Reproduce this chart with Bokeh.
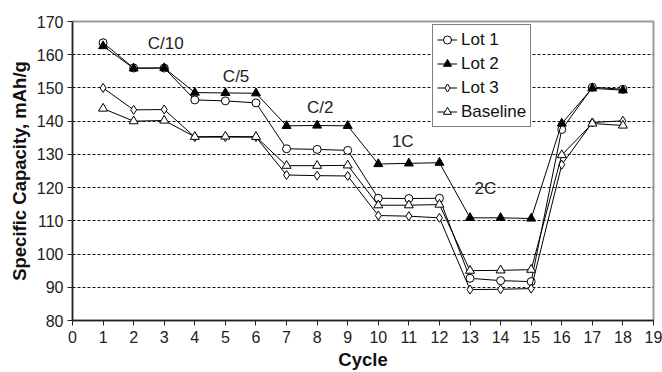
from bokeh.plotting import figure
from bokeh.models import Range1d, FixedTicker, Legend, LegendItem, ColumnDataSource
from bokeh.core.properties import value
from bokeh.embed import file_html
from bokeh.resources import INLINE

# Specific capacity per cycle for each lot
cycles = list(range(1, 19))
lot1 = [163.6, 156.0, 156.0, 146.4, 146.1, 145.5, 131.7, 131.5, 131.2,
        116.8, 116.7, 116.8, 92.7, 92.0, 91.7, 137.5, 150.2, 149.6]
lot2 = [162.6, 155.9, 156.0, 148.6, 148.5, 148.4, 138.6, 138.7, 138.6,
        127.1, 127.3, 127.5, 110.9, 110.9, 110.7, 139.3, 149.9, 149.3]
lot3 = [150.0, 143.4, 143.5, 135.2, 135.2, 135.2, 123.8, 123.6, 123.5,
        111.6, 111.4, 110.9, 89.3, 89.4, 89.6, 126.9, 139.6, 140.1]
baseline = [143.8, 140.0, 140.2, 135.3, 135.4, 135.3, 126.6, 126.6, 126.7,
            114.7, 114.7, 114.9, 95.0, 95.1, 95.3, 129.8, 139.3, 138.7]

# C-rate annotations (data coordinates)
rate_labels = ["C/10", "C/5", "C/2", "1C", "2C"]
rate_x = [3.05, 5.35, 8.1, 10.8, 13.5]
rate_y = [163.4, 153.4, 144.0, 133.9, 119.7]

x_ticks = list(range(0, 20))
y_ticks = list(range(80, 171, 10))

FONT = "Liberation Sans"

p = figure(width=662, height=372, output_backend="svg", toolbar_location=None,
           x_range=Range1d(0, 19), y_range=Range1d(80, 170),
           min_border_left=72, min_border_right=9, min_border_top=21,
           min_border_bottom=52)
p.background_fill_color = "white"
p.border_fill_color = "white"
p.outline_line_color = "#9a9a9a"
p.outline_line_width = 2

# axes
for ax in (p.xaxis[0], p.yaxis[0]):
    ax.axis_line_color = "#222222"
    ax.axis_line_width = 1.5
    ax.major_tick_line_color = "#222222"
    ax.major_tick_out = 5
    ax.major_tick_in = 0
    ax.minor_tick_line_color = None
    ax.major_label_text_font = FONT
    ax.major_label_text_font_size = "16px"
    ax.major_label_text_color = "#222222"
    ax.axis_label_text_font = FONT
    ax.axis_label_text_font_size = "18.5px"
    ax.axis_label_text_font_style = "bold"
    ax.axis_label_text_color = "#111111"

p.xaxis.ticker = FixedTicker(ticks=x_ticks)
p.yaxis.ticker = FixedTicker(ticks=y_ticks)
p.xaxis.axis_label = "Cycle"
p.yaxis.axis_label = "Specific Capacity, mAh/g"
p.xaxis.major_label_standoff = 5
p.yaxis.major_label_standoff = 4
p.xaxis.axis_label_standoff = 3
p.yaxis.axis_label_standoff = 4

p.xgrid.grid_line_color = None
p.ygrid.grid_line_color = "#111111"
p.ygrid.grid_line_dash = "3 2"
p.ygrid.grid_line_width = 1
p.ygrid.ticker = FixedTicker(ticks=y_ticks[1:-1])

series = [
    ("Lot 1", lot1, "circle", "white", 8),
    ("Lot 2", lot2, "triangle", "black", 9),
    ("Lot 3", lot3, "diamond", "white", 9),
    ("Baseline", baseline, "triangle", "white", 9),
]

items = []
for name, vals, marker, fill, size in series:
    src = ColumnDataSource(dict(x=cycles, y=vals))
    ln = p.line("x", "y", source=src, line_color="black", line_width=1)
    sc = p.scatter("x", "y", source=src, marker=marker, size=size,
                   line_color="black", line_width=1, fill_color=fill)
    items.append(LegendItem(label=name, renderers=[ln, sc]))

rate_src = ColumnDataSource(dict(x=rate_x, y=rate_y, t=rate_labels))
p.text("x", "y", text="t", source=rate_src, text_font=value(FONT),
       text_font_size="17px", text_color="#222222",
       text_align="center", text_baseline="middle")

legend = Legend(items=items, location=(360, 193))
legend.label_text_font = FONT
legend.label_text_font_size = "17px"
legend.label_text_color = "#111111"
legend.border_line_color = "black"
legend.border_line_width = 1
legend.background_fill_color = "white"
legend.background_fill_alpha = 1
legend.padding = 4
legend.spacing = 3
legend.label_height = 21
legend.glyph_height = 21
legend.glyph_width = 20
legend.label_standoff = 4
legend.margin = 0
p.add_layout(legend)

open("out.html", "w").write(file_html(p, INLINE))
